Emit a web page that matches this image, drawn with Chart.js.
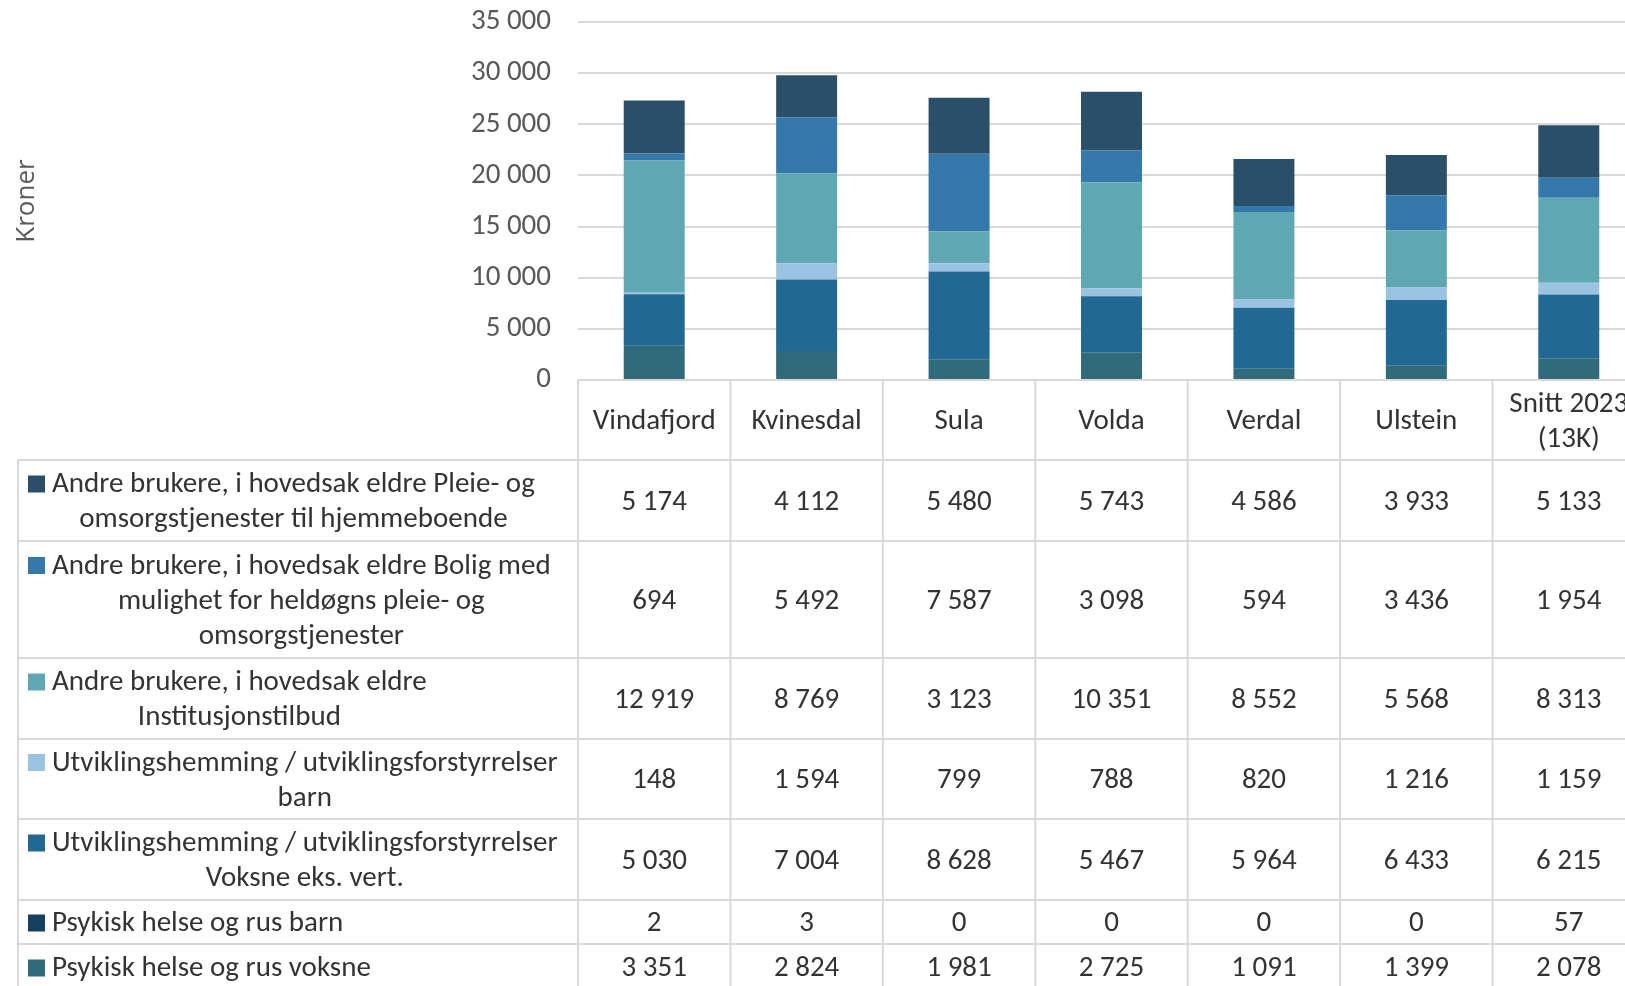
<!DOCTYPE html>
<html>
<head>
<meta charset="utf-8">
<script src="https://cdn.jsdelivr.net/npm/chart.js@4.4.0/dist/chart.umd.min.js"></script>
<style>
  html, body { margin: 0; padding: 0; background: #fff; overflow: hidden; width: 1625px; height: 986px; }
  canvas { display: block; }
</style>
</head>
<body>
<canvas id="kostnadChart" width="1670" height="986"></canvas>
<script>
// categories (x axis / table columns)
const categories = ['Vindafjord', 'Kvinesdal', 'Sula', 'Volda', 'Verdal', 'Ulstein', ['Snitt 2023', '(13K)']];
const yTickValues = [0, 5000, 10000, 15000, 20000, 25000, 30000, 35000];

// series, bottom of the stack first
const psykiskVoksne = [3351, 2824, 1981, 2725, 1091, 1399, 2078];
const psykiskBarn = [2, 3, 0, 0, 0, 0, 57];
const utvVoksne = [5030, 7004, 8628, 5467, 5964, 6433, 6215];
const utvBarn = [148, 1594, 799, 788, 820, 1216, 1159];
const institusjon = [12919, 8769, 3123, 10351, 8552, 5568, 8313];
const boligHeldogns = [694, 5492, 7587, 3098, 594, 3436, 1954];
const hjemmeboende = [5174, 4112, 5480, 5743, 4586, 3933, 5133];

// series names, as wrapped in the table
const nameLines = {
    psykiskVoksne: ['Psykisk helse og rus voksne'],
    psykiskBarn: ['Psykisk helse og rus barn'],
    utvVoksne: ['Utviklingshemming / utviklingsforstyrrelser', 'Voksne eks. vert.'],
    utvBarn: ['Utviklingshemming / utviklingsforstyrrelser', 'barn'],
    institusjon: ['Andre brukere, i hovedsak eldre', 'Institusjonstilbud'],
    boligHeldogns: ['Andre brukere, i hovedsak eldre Bolig med', 'mulighet for heldøgns pleie- og', 'omsorgstjenester'],
    hjemmeboende: ['Andre brukere, i hovedsak eldre Pleie- og', 'omsorgstjenester til hjemmeboende']
};

const fmt = v => String(v).replace(/\B(?=(\d{3})+(?!\d))/g, ' ');

const FONT = 'Carlito, Lato, sans-serif';
const TEXT = '#333333';
const GRID = '#D9D9D9';
const FONT_SIZE = 29;

// table row heights (header first, then series rows top to bottom)
const headerHeight = 80;
const rowHeights = [81, 117, 81, 80, 81, 44, 46];
const tableLeft = 18;

const makeSet = (key, data, color) => ({
    label: nameLines[key].join(' '),
    lines: nameLines[key],
    data: data,
    backgroundColor: color,
    borderWidth: 0,
    categoryPercentage: 0.4,
    barPercentage: 1
});

const tablePlugin = {
    id: 'dataTable',
    afterDraw(chart) {
        const ctx = chart.ctx;
        const area = chart.chartArea;
        const x = chart.scales.x;
        const step = x.getPixelForValue(1) - x.getPixelForValue(0);
        const edges = categories.map((c, i) => x.getPixelForValue(i) - step / 2);
        edges.push(x.getPixelForValue(categories.length - 1) + step / 2);
        const right = edges[edges.length - 1];
        const top = area.bottom;
        const rowTops = [top + headerHeight];
        rowHeights.forEach(h => rowTops.push(rowTops[rowTops.length - 1] + h));
        const bottom = rowTops[rowTops.length - 1];

        ctx.save();
        ctx.strokeStyle = GRID;
        ctx.lineWidth = 2;
        ctx.beginPath();
        rowTops.forEach(y => { ctx.moveTo(tableLeft, y); ctx.lineTo(right, y); });
        ctx.moveTo(tableLeft, rowTops[0]); ctx.lineTo(tableLeft, bottom);
        edges.forEach(ex => { ctx.moveTo(ex, top); ctx.lineTo(ex, bottom); });
        ctx.stroke();

        ctx.fillStyle = TEXT;
        ctx.textAlign = 'center';
        ctx.textBaseline = 'middle';
        ctx.font = FONT_SIZE + 'px ' + FONT;
        const lh = 35;
        const nudge = 2; // Lato sits a little higher than Calibri

        // header
        categories.forEach((c, i) => {
            const lines = Array.isArray(c) ? c : [c];
            const cx = x.getPixelForValue(i);
            const cy = top + headerHeight / 2 + nudge;
            lines.forEach((l, k) => ctx.fillText(l, cx, cy + (k - (lines.length - 1) / 2) * lh));
        });

        // series rows, top of the stack first
        const sets = chart.data.datasets.slice().reverse();
        const keyX = tableLeft + 10, keySize = 17, textX = tableLeft + 34;
        sets.forEach((ds, r) => {
            const cy = rowTops[r] + rowHeights[r] / 2 + nudge;
            ctx.fillStyle = TEXT;
            ds.data.forEach((v, i) => ctx.fillText(fmt(v), x.getPixelForValue(i), cy));

            const blockW = Math.max(...ds.lines.map(l => ctx.measureText(l).width));
            const blockCx = textX + blockW / 2;
            ds.lines.forEach((l, k) => {
                const ly = cy + (k - (ds.lines.length - 1) / 2) * lh;
                if (k === 0) {
                    ctx.fillStyle = ds.backgroundColor;
                    ctx.fillRect(keyX, ly - keySize / 2 - 1, keySize, keySize);
                }
                ctx.fillStyle = TEXT;
                ctx.fillText(l, blockCx, ly);
            });
        });
        ctx.restore();
    }
};

const ctx = document.getElementById('kostnadChart').getContext('2d');
const kostnadChart = new Chart(ctx, {
    type: 'bar',
    data: {
        labels: categories,
        datasets: [
            makeSet('psykiskVoksne', psykiskVoksne, '#2F6B7B'),
            makeSet('psykiskBarn', psykiskBarn, '#173F61'),
            makeSet('utvVoksne', utvVoksne, '#216892'),
            makeSet('utvBarn', utvBarn, '#9AC3E2'),
            makeSet('institusjon', institusjon, '#5FA8B3'),
            makeSet('boligHeldogns', boligHeldogns, '#3478AC'),
            makeSet('hjemmeboende', hjemmeboende, '#2A4F69')
        ]
    },
    options: {
        responsive: false,
        animation: false,
        layout: { padding: { top: 22, right: 25, bottom: 606, left: 0 } },
        plugins: {
            legend: { display: false },
            tooltip: { enabled: false }
        },
        scales: {
            x: { stacked: true, display: false },
            y: {
                stacked: true,
                min: 0,
                max: 35000,
                afterFit: scale => { scale.width = 578; },
                afterBuildTicks: scale => { scale.ticks = yTickValues.map(v => ({ value: v })); },
                ticks: {
                    color: '#595959',
                    font: { family: FONT, size: FONT_SIZE },
                    padding: 0,
                    callback: v => fmt(v)
                },
                grid: { color: GRID, lineWidth: 2, drawTicks: true, tickLength: 27, tickColor: 'rgba(0,0,0,0)' },
                border: { display: false },
                title: {
                    display: true,
                    text: 'Kroner',
                    color: '#595959',
                    font: { family: '"Open Sans", sans-serif', size: 26 },
                    padding: { top: 11, bottom: 0 }
                }
            }
        }
    },
    plugins: [tablePlugin]
});
</script>
</body>
</html>
